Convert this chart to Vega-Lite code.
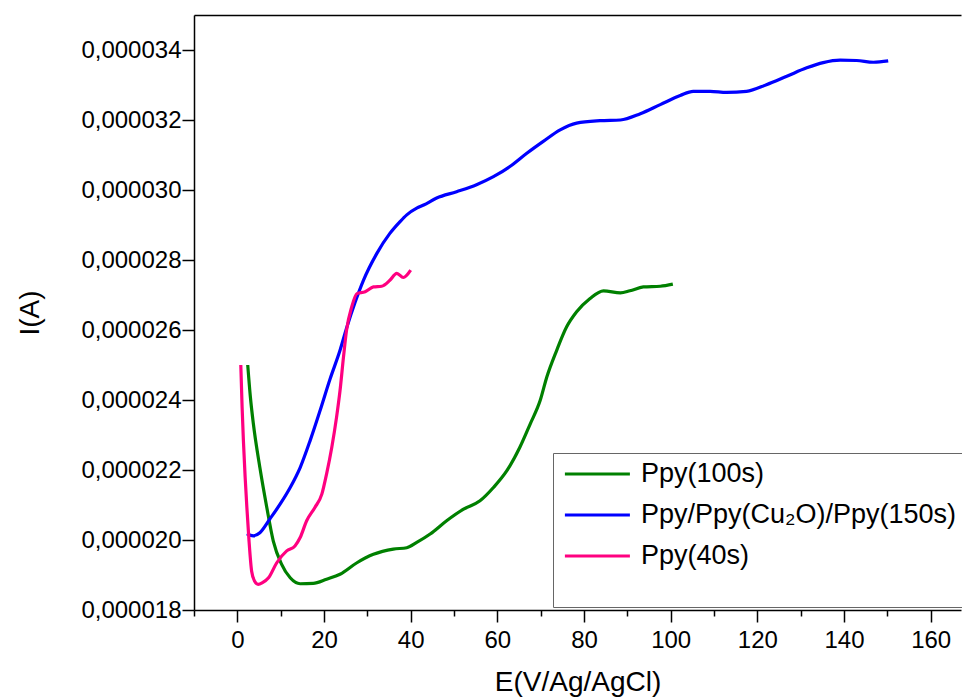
{
  "$schema": "https://vega.github.io/schema/vega-lite/v6.json",
  "width": 767,
  "height": 595,
  "autosize": {"type": "none"},
  "padding": {"left": 194, "top": 15, "right": 1, "bottom": 89},
  "background": "white",
  "config": {
    "view": {"stroke": null},
    "font": "Liberation Sans",
    "axis": {"grid": false, "domainColor": "black", "tickColor": "black", "labelColor": "black", "titleColor": "black", "domainWidth": 1.5, "tickWidth": 1.5, "titleFontWeight": "normal", "labelFont": "Liberation Sans", "titleFont": "Liberation Sans"}
  },
  "data": {
    "values": [
      {"s": "Ppy(100s)", "x": 2.4, "y": 25.0e-6},
      {"s": "Ppy(100s)", "x": 3.0, "y": 24.1e-6},
      {"s": "Ppy(100s)", "x": 3.7, "y": 23.32e-6},
      {"s": "Ppy(100s)", "x": 5.2, "y": 22.07e-6},
      {"s": "Ppy(100s)", "x": 6.8, "y": 20.93e-6},
      {"s": "Ppy(100s)", "x": 8.3, "y": 19.97e-6},
      {"s": "Ppy(100s)", "x": 10.2, "y": 19.31e-6},
      {"s": "Ppy(100s)", "x": 12.2, "y": 18.92e-6},
      {"s": "Ppy(100s)", "x": 14.5, "y": 18.75e-6},
      {"s": "Ppy(100s)", "x": 17.5, "y": 18.76e-6},
      {"s": "Ppy(100s)", "x": 20.6, "y": 18.88e-6},
      {"s": "Ppy(100s)", "x": 23.7, "y": 19.02e-6},
      {"s": "Ppy(100s)", "x": 27.6, "y": 19.35e-6},
      {"s": "Ppy(100s)", "x": 31.4, "y": 19.59e-6},
      {"s": "Ppy(100s)", "x": 36.0, "y": 19.74e-6},
      {"s": "Ppy(100s)", "x": 39.1, "y": 19.78e-6},
      {"s": "Ppy(100s)", "x": 41.4, "y": 19.93e-6},
      {"s": "Ppy(100s)", "x": 44.5, "y": 20.17e-6},
      {"s": "Ppy(100s)", "x": 48.3, "y": 20.55e-6},
      {"s": "Ppy(100s)", "x": 52.2, "y": 20.88e-6},
      {"s": "Ppy(100s)", "x": 56.0, "y": 21.12e-6},
      {"s": "Ppy(100s)", "x": 59.1, "y": 21.5e-6},
      {"s": "Ppy(100s)", "x": 62.2, "y": 21.98e-6},
      {"s": "Ppy(100s)", "x": 65.2, "y": 22.65e-6},
      {"s": "Ppy(100s)", "x": 67.6, "y": 23.32e-6},
      {"s": "Ppy(100s)", "x": 69.9, "y": 23.99e-6},
      {"s": "Ppy(100s)", "x": 71.4, "y": 24.65e-6},
      {"s": "Ppy(100s)", "x": 73.7, "y": 25.42e-6},
      {"s": "Ppy(100s)", "x": 76.0, "y": 26.09e-6},
      {"s": "Ppy(100s)", "x": 78.3, "y": 26.52e-6},
      {"s": "Ppy(100s)", "x": 81.4, "y": 26.9e-6},
      {"s": "Ppy(100s)", "x": 84.5, "y": 27.12e-6},
      {"s": "Ppy(100s)", "x": 88.4, "y": 27.06e-6},
      {"s": "Ppy(100s)", "x": 90.6, "y": 27.12e-6},
      {"s": "Ppy(100s)", "x": 93.7, "y": 27.23e-6},
      {"s": "Ppy(100s)", "x": 97.6, "y": 27.25e-6},
      {"s": "Ppy(100s)", "x": 100.5, "y": 27.31e-6},

      {"s": "Ppy/Ppy(Cu₂O)/Ppy(150s)", "x": 2.2, "y": 20.18e-6},
      {"s": "Ppy/Ppy(Cu₂O)/Ppy(150s)", "x": 3.7, "y": 20.12e-6},
      {"s": "Ppy/Ppy(Cu₂O)/Ppy(150s)", "x": 5.2, "y": 20.21e-6},
      {"s": "Ppy/Ppy(Cu₂O)/Ppy(150s)", "x": 7.5, "y": 20.6e-6},
      {"s": "Ppy/Ppy(Cu₂O)/Ppy(150s)", "x": 9.9, "y": 21.03e-6},
      {"s": "Ppy/Ppy(Cu₂O)/Ppy(150s)", "x": 12.2, "y": 21.5e-6},
      {"s": "Ppy/Ppy(Cu₂O)/Ppy(150s)", "x": 14.5, "y": 22.07e-6},
      {"s": "Ppy/Ppy(Cu₂O)/Ppy(150s)", "x": 16.8, "y": 22.84e-6},
      {"s": "Ppy/Ppy(Cu₂O)/Ppy(150s)", "x": 19.1, "y": 23.7e-6},
      {"s": "Ppy/Ppy(Cu₂O)/Ppy(150s)", "x": 21.4, "y": 24.6e-6},
      {"s": "Ppy/Ppy(Cu₂O)/Ppy(150s)", "x": 23.7, "y": 25.42e-6},
      {"s": "Ppy/Ppy(Cu₂O)/Ppy(150s)", "x": 25.2, "y": 26.05e-6},
      {"s": "Ppy/Ppy(Cu₂O)/Ppy(150s)", "x": 27.2, "y": 26.8e-6},
      {"s": "Ppy/Ppy(Cu₂O)/Ppy(150s)", "x": 29.1, "y": 27.42e-6},
      {"s": "Ppy/Ppy(Cu₂O)/Ppy(150s)", "x": 32.2, "y": 28.19e-6},
      {"s": "Ppy/Ppy(Cu₂O)/Ppy(150s)", "x": 35.2, "y": 28.76e-6},
      {"s": "Ppy/Ppy(Cu₂O)/Ppy(150s)", "x": 37.5, "y": 29.09e-6},
      {"s": "Ppy/Ppy(Cu₂O)/Ppy(150s)", "x": 39.1, "y": 29.29e-6},
      {"s": "Ppy/Ppy(Cu₂O)/Ppy(150s)", "x": 41.4, "y": 29.48e-6},
      {"s": "Ppy/Ppy(Cu₂O)/Ppy(150s)", "x": 43.0, "y": 29.57e-6},
      {"s": "Ppy/Ppy(Cu₂O)/Ppy(150s)", "x": 46.0, "y": 29.77e-6},
      {"s": "Ppy/Ppy(Cu₂O)/Ppy(150s)", "x": 50.6, "y": 29.95e-6},
      {"s": "Ppy/Ppy(Cu₂O)/Ppy(150s)", "x": 55.2, "y": 30.15e-6},
      {"s": "Ppy/Ppy(Cu₂O)/Ppy(150s)", "x": 59.1, "y": 30.38e-6},
      {"s": "Ppy/Ppy(Cu₂O)/Ppy(150s)", "x": 62.9, "y": 30.67e-6},
      {"s": "Ppy/Ppy(Cu₂O)/Ppy(150s)", "x": 66.8, "y": 31.05e-6},
      {"s": "Ppy/Ppy(Cu₂O)/Ppy(150s)", "x": 70.6, "y": 31.39e-6},
      {"s": "Ppy/Ppy(Cu₂O)/Ppy(150s)", "x": 74.5, "y": 31.72e-6},
      {"s": "Ppy/Ppy(Cu₂O)/Ppy(150s)", "x": 78.3, "y": 31.91e-6},
      {"s": "Ppy/Ppy(Cu₂O)/Ppy(150s)", "x": 83.7, "y": 31.98e-6},
      {"s": "Ppy/Ppy(Cu₂O)/Ppy(150s)", "x": 88.4, "y": 32.0e-6},
      {"s": "Ppy/Ppy(Cu₂O)/Ppy(150s)", "x": 93.0, "y": 32.18e-6},
      {"s": "Ppy/Ppy(Cu₂O)/Ppy(150s)", "x": 97.6, "y": 32.44e-6},
      {"s": "Ppy/Ppy(Cu₂O)/Ppy(150s)", "x": 102.2, "y": 32.7e-6},
      {"s": "Ppy/Ppy(Cu₂O)/Ppy(150s)", "x": 105.2, "y": 32.82e-6},
      {"s": "Ppy/Ppy(Cu₂O)/Ppy(150s)", "x": 109.1, "y": 32.82e-6},
      {"s": "Ppy/Ppy(Cu₂O)/Ppy(150s)", "x": 112.9, "y": 32.79e-6},
      {"s": "Ppy/Ppy(Cu₂O)/Ppy(150s)", "x": 117.5, "y": 32.82e-6},
      {"s": "Ppy/Ppy(Cu₂O)/Ppy(150s)", "x": 122.1, "y": 33.01e-6},
      {"s": "Ppy/Ppy(Cu₂O)/Ppy(150s)", "x": 126.8, "y": 33.25e-6},
      {"s": "Ppy/Ppy(Cu₂O)/Ppy(150s)", "x": 131.4, "y": 33.49e-6},
      {"s": "Ppy/Ppy(Cu₂O)/Ppy(150s)", "x": 135.2, "y": 33.64e-6},
      {"s": "Ppy/Ppy(Cu₂O)/Ppy(150s)", "x": 139.1, "y": 33.71e-6},
      {"s": "Ppy/Ppy(Cu₂O)/Ppy(150s)", "x": 142.9, "y": 33.7e-6},
      {"s": "Ppy/Ppy(Cu₂O)/Ppy(150s)", "x": 146.8, "y": 33.65e-6},
      {"s": "Ppy/Ppy(Cu₂O)/Ppy(150s)", "x": 150.2, "y": 33.69e-6},

      {"s": "Ppy(40s)", "x": 0.8, "y": 25.0e-6},
      {"s": "Ppy(40s)", "x": 1.1, "y": 23.8e-6},
      {"s": "Ppy(40s)", "x": 1.4, "y": 22.84e-6},
      {"s": "Ppy(40s)", "x": 1.8, "y": 21.8e-6},
      {"s": "Ppy(40s)", "x": 2.2, "y": 20.93e-6},
      {"s": "Ppy(40s)", "x": 2.7, "y": 19.97e-6},
      {"s": "Ppy(40s)", "x": 3.3, "y": 19.11e-6},
      {"s": "Ppy(40s)", "x": 4.0, "y": 18.82e-6},
      {"s": "Ppy(40s)", "x": 4.8, "y": 18.73e-6},
      {"s": "Ppy(40s)", "x": 5.8, "y": 18.78e-6},
      {"s": "Ppy(40s)", "x": 7.2, "y": 18.92e-6},
      {"s": "Ppy(40s)", "x": 9.1, "y": 19.35e-6},
      {"s": "Ppy(40s)", "x": 11.4, "y": 19.69e-6},
      {"s": "Ppy(40s)", "x": 13.3, "y": 19.83e-6},
      {"s": "Ppy(40s)", "x": 14.5, "y": 20.07e-6},
      {"s": "Ppy(40s)", "x": 16.0, "y": 20.55e-6},
      {"s": "Ppy(40s)", "x": 17.9, "y": 20.93e-6},
      {"s": "Ppy(40s)", "x": 19.5, "y": 21.31e-6},
      {"s": "Ppy(40s)", "x": 20.6, "y": 21.89e-6},
      {"s": "Ppy(40s)", "x": 21.8, "y": 22.65e-6},
      {"s": "Ppy(40s)", "x": 22.9, "y": 23.51e-6},
      {"s": "Ppy(40s)", "x": 23.7, "y": 24.27e-6},
      {"s": "Ppy(40s)", "x": 24.5, "y": 25.23e-6},
      {"s": "Ppy(40s)", "x": 25.2, "y": 25.99e-6},
      {"s": "Ppy(40s)", "x": 26.4, "y": 26.66e-6},
      {"s": "Ppy(40s)", "x": 27.6, "y": 27.04e-6},
      {"s": "Ppy(40s)", "x": 29.5, "y": 27.09e-6},
      {"s": "Ppy(40s)", "x": 31.4, "y": 27.23e-6},
      {"s": "Ppy(40s)", "x": 33.3, "y": 27.25e-6},
      {"s": "Ppy(40s)", "x": 35.2, "y": 27.42e-6},
      {"s": "Ppy(40s)", "x": 36.8, "y": 27.62e-6},
      {"s": "Ppy(40s)", "x": 38.3, "y": 27.5e-6},
      {"s": "Ppy(40s)", "x": 40.0, "y": 27.71e-6}
    ]
  },
  "layer": [
    {
      "mark": {"type": "line", "strokeWidth": 3.2, "clip": true, "interpolate": "monotone"},
      "encoding": {
        "x": {
          "field": "x", "type": "quantitative",
          "scale": {"domain": [-10, 167], "nice": false, "zero": false},
          "axis": {
            "orient": "bottom",
            "values": [-10, 0, 10, 20, 30, 40, 50, 60, 70, 80, 90, 100, 110, 120, 130, 140, 150, 160],
            "labelExpr": "datum.value % 20 == 0 ? datum.label : ''",
            "tickSize": {"condition": {"test": "datum.value % 20 == 0", "value": 12}, "value": 6},
            "labelFontSize": 24,
            "labelPadding": 6,
            "labelFlush": false,
            "title": "E(V/Ag/AgCl)",
            "titleFontSize": 28,
            "titlePadding": 16
          }
        },
        "y": {
          "field": "y", "type": "quantitative",
          "scale": {"domain": [0.000018, 0.000035], "nice": false, "zero": false},
          "axis": {
            "values": [0.000018, 0.000019, 0.00002, 0.000021, 0.000022, 0.000023, 0.000024, 0.000025, 0.000026, 0.000027, 0.000028, 0.000029, 0.00003, 0.000031, 0.000032, 0.000033, 0.000034, 0.000035],
            "labelExpr": "round(datum.value*1e6) % 2 == 0 ? replace(format(datum.value, '.6f'), '.', ',') : ''",
            "tickSize": {"condition": {"test": "round(datum.value*1e6) % 2 == 0", "value": 12}, "value": 7},
            "labelFontSize": 24,
            "labelPadding": 1,
            "labelFlush": false,
            "title": "I(A)",
            "titleFontSize": 28,
            "titlePadding": 36
          }
        },
        "color": {
          "field": "s", "type": "nominal",
          "scale": {"domain": ["Ppy(100s)", "Ppy/Ppy(Cu₂O)/Ppy(150s)", "Ppy(40s)"], "range": ["#008000", "#0000FF", "#FF0080"]},
          "legend": {
            "orient": "none",
            "legendX": 359,
            "legendY": 438,
            "title": "\u00a0",
            "titleOrient": "bottom",
            "titleFontSize": 20,
            "titlePadding": 12,
            "symbolType": "M-0.7,0H4.3",
            "symbolSize": 676,
            "symbolStrokeWidth": 3.2,
            "labelFontSize": 27,
            "labelColor": "black",
            "labelOffset": 52,
            "labelLimit": 800,
            "labelExpr": "datum.label + '\u00a0\u00a0\u00a0\u00a0\u00a0\u00a0\u00a0\u00a0'",
            "rowPadding": 13,
            "padding": 6,
            "strokeColor": "#666666",
            "fillColor": "white"
          }
        }
      }
    },
    {
      "mark": {"type": "line", "opacity": 0},
      "encoding": {
        "x": {
          "field": "x", "type": "quantitative",
          "scale": {"domain": [-10, 167], "nice": false, "zero": false},
          "axis": {"orient": "top", "labels": false, "ticks": false, "title": null, "domainColor": "black", "domainWidth": 1.5}
        },
        "y": {
          "field": "y", "type": "quantitative",
          "scale": {"domain": [0.000018, 0.000035], "nice": false, "zero": false}
        }
      }
    }
  ],
  "resolve": {"axis": {"x": "independent"}}
}
